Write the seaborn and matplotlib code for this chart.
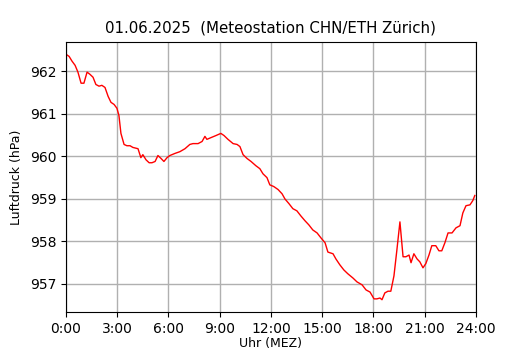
import matplotlib
matplotlib.use("Agg")
import matplotlib.pyplot as plt
import seaborn as sns
import numpy as np
import pandas as pd

title = "01.06.2025  (Meteostation CHN/ETH Zürich)"
minutes = [0, 11, 21, 32, 42, 53, 63, 74, 84, 95, 105, 116, 126, 137, 148, 158, 169, 179, 186, 193,
           204, 214, 225, 235, 253, 263, 270, 281, 292, 302, 313, 323, 334, 344, 355, 365, 383, 400,
           418, 435, 446, 464, 478, 488, 495, 509, 527, 544, 555, 569, 587, 601, 611, 622, 636, 650,
           667, 681, 692, 706, 716, 730, 745, 759, 769, 783, 797, 811, 825, 839, 853, 867, 882, 896,
           910, 920, 938, 948, 962, 976, 990, 1008, 1022, 1040, 1054, 1068, 1082, 1092, 1103, 1110,
           1120, 1131, 1141, 1152, 1162, 1173, 1184, 1194, 1205, 1212, 1222, 1233, 1243, 1254, 1264,
           1275, 1285, 1299, 1310, 1320, 1331, 1342, 1356, 1370, 1384, 1394, 1405, 1419, 1429, 1436]
pressure = [962.40, 962.35, 962.24, 962.14, 961.98, 961.72, 961.72, 961.98, 961.93, 961.86, 961.69,
            961.65, 961.67, 961.62, 961.41, 961.27, 961.22, 961.13, 960.96, 960.54, 960.28, 960.25,
            960.25, 960.21, 960.18, 959.97, 960.04, 959.92, 959.85, 959.85, 959.88, 960.02, 959.95,
            959.88, 959.97, 960.02, 960.07, 960.11, 960.18, 960.28, 960.30, 960.30, 960.35, 960.47,
            960.40, 960.44, 960.49, 960.54, 960.49, 960.40, 960.30, 960.28, 960.23, 960.04, 959.95,
            959.88, 959.78, 959.71, 959.59, 959.50, 959.33, 959.29, 959.22, 959.12, 959.00, 958.89,
            958.77, 958.72, 958.60, 958.49, 958.39, 958.27, 958.20, 958.08, 957.97, 957.75, 957.71,
            957.59, 957.45, 957.33, 957.24, 957.14, 957.05, 956.98, 956.86, 956.81, 956.65, 956.65,
            956.67, 956.63, 956.79, 956.83, 956.83, 957.19, 957.78, 958.46, 957.64, 957.64, 957.68,
            957.50, 957.71, 957.59, 957.52, 957.38, 957.48, 957.68, 957.90, 957.90, 957.78, 957.78,
            957.97, 958.20, 958.20, 958.32, 958.37, 958.67, 958.84, 958.86, 958.96, 959.08]
xtick_hours = [0, 3, 6, 9, 12, 15, 18, 21, 24]
xtick_labels = [f"{h}:00" for h in xtick_hours]
ytick_values = [957, 958, 959, 960, 961, 962]

df = pd.DataFrame({"hour": np.array(minutes) / 60.0, "p": pressure})

fig = plt.figure(figsize=(5.3, 3.5), dpi=100)
ax = fig.add_axes([0.1245, 0.1086, 0.7735, 0.7714])
sns.lineplot(data=df, x="hour", y="p", ax=ax, color="red", linewidth=1.0)
ax.set_xlim(0, 24)
ax.set_xticks(xtick_hours)
ax.set_xticklabels(xtick_labels)
ax.set_yticks(ytick_values)
ax.grid(True, color="#b0b0b0", linewidth=1.0)
ax.set_axisbelow(True)
ax.set_xlabel("Uhr (MEZ)", labelpad=1, fontsize=9)
ax.set_ylabel("Luftdruck (hPa)", labelpad=5, fontsize=9)
ax.set_title(title, fontsize=10.8, pad=7)
fig.savefig("out.png", dpi=100)
